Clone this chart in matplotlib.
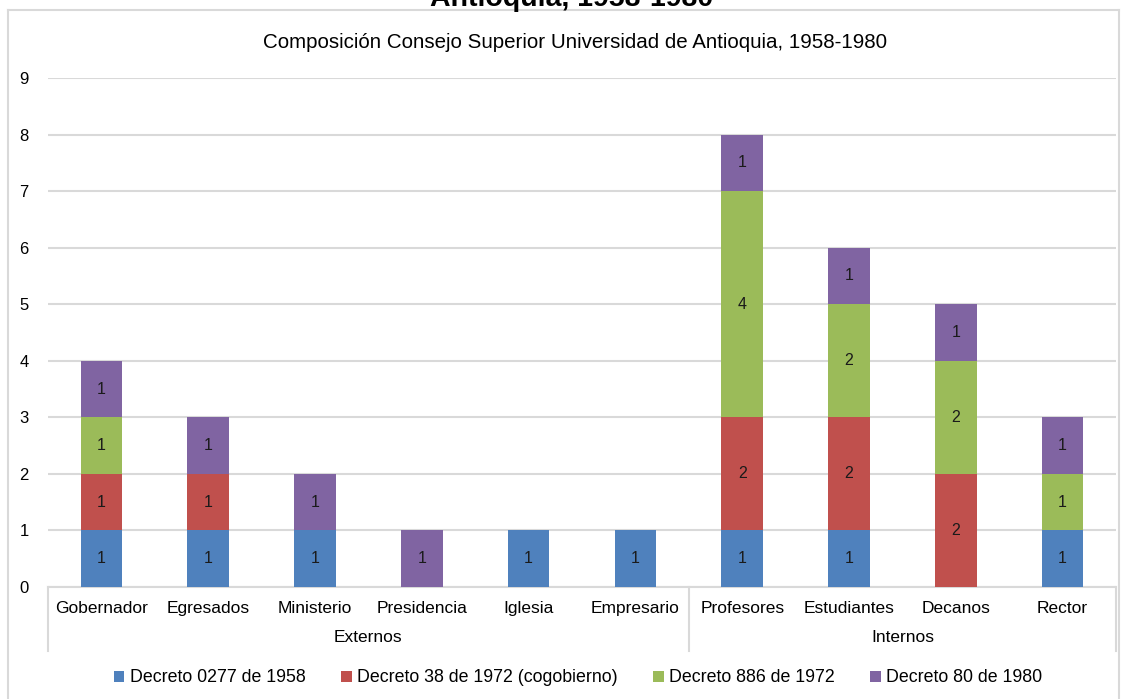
import matplotlib
matplotlib.use('Agg')
import matplotlib.pyplot as plt
import matplotlib.transforms as mtransforms
from matplotlib.lines import Line2D
from matplotlib.patches import Patch
import numpy as np

plt.rcParams['font.family'] = ['Liberation Sans', 'DejaVu Sans']

# datos
categorias = ['Gobernador', 'Egresados', 'Ministerio', 'Presidencia', 'Iglesia',
              'Empresario', 'Profesores', 'Estudiantes', 'Decanos', 'Rector']
grupos = ['Externos', 'Internos']
grupo_tamano = [6, 4]
series = ['Decreto 0277 de 1958', 'Decreto 38 de 1972 (cogobierno)',
          'Decreto 886 de 1972', 'Decreto 80 de 1980']
d1958 = [1, 1, 1, 0, 1, 1, 1, 1, 0, 1]
d1972_38 = [1, 1, 0, 0, 0, 0, 2, 2, 2, 0]
d1972_886 = [1, 0, 0, 0, 0, 0, 4, 2, 2, 1]
d1980 = [1, 1, 1, 1, 0, 0, 1, 1, 1, 1]
colores = ['#4F81BD', '#C0504D', '#9BBB59', '#8064A2']

W, H = 1126, 699
fig = plt.figure(figsize=(W / 100, H / 100), dpi=100)

# marco exterior
for xs, ys in [([8, 8], [10, H]), ([8, 1119], [10, 10]), ([1119, 1119], [10, H])]:
    fig.add_artist(Line2D([x / W for x in xs], [1 - y / H for y in ys],
                          color='#D9D9D9', lw=1.5, transform=fig.transFigure))

ax = fig.add_axes([48 / W, 1 - 587 / H, (1116 - 48) / W, (587 - 78) / H])

x = np.arange(len(categorias))
base = np.zeros(len(categorias))
for vals, color in zip([d1958, d1972_38, d1972_886, d1980], colores):
    vals = np.array(vals, dtype=float)
    bars = ax.bar(x, vals, width=0.39, bottom=base, color=color, zorder=3)
    for b, v, y0 in zip(bars, vals, base):
        if v > 0:
            ax.text(b.get_x() + b.get_width() / 2, y0 + v / 2, f'{int(v)}',
                    ha='center', va='center', fontsize=11.5, color='#1a1a1a', zorder=4)
    base += vals

ax.set_xlim(-0.5, len(categorias) - 0.5)
ax.set_ylim(0, 9)
ax.set_yticks(range(10))
ax.yaxis.grid(True, color='#D9D9D9', lw=1.5, zorder=0)
for s in ['top', 'right', 'left']:
    ax.spines[s].set_visible(False)
ax.spines['bottom'].set_color('#D9D9D9')
ax.spines['bottom'].set_linewidth(1.5)
ax.tick_params(axis='y', length=0, pad=14, labelsize=12)
ax.tick_params(axis='x', length=0, pad=10, labelsize=12.5)
ax.set_xticks(x)
ax.set_xticklabels(categorias)

# eje de categorías de dos niveles
trans = mtransforms.blended_transform_factory(ax.transData, ax.transAxes)
bajo = -64 / 509
limites = np.cumsum([0] + grupo_tamano) - 0.5
for xb in limites:
    ax.add_artist(Line2D([xb, xb], [0, bajo], color='#D9D9D9', lw=1.5,
                         transform=trans, clip_on=False))
for g, a, b in zip(grupos, limites[:-1], limites[1:]):
    ax.text((a + b) / 2, -50 / 509, g, transform=trans, ha='center', va='center',
            fontsize=12.5)

# títulos (el principal queda cortado en el borde superior, como en el original)
fig.text(572 / W, 1 - 5.5 / H, 'Antioquia, 1958-1980', ha='center', va='baseline',
         fontsize=20.5, fontweight='bold')
fig.text(575 / W, 1 - 42 / H, 'Composición Consejo Superior Universidad de Antioquia, 1958-1980',
         ha='center', va='center', fontsize=14.8)

handles = [Patch(facecolor=c, label=s) for c, s in zip(colores, series)]
fig.legend(handles=handles, loc='center', bbox_to_anchor=(578 / W, 1 - 678 / H),
           ncol=4, frameon=False, fontsize=12.8, handlelength=0.6, handleheight=0.6,
           handletextpad=0.3, columnspacing=2.0)

fig.savefig('out.png', dpi=100)
